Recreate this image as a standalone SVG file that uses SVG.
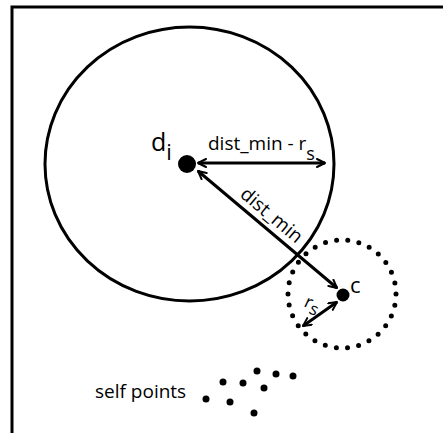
<svg xmlns="http://www.w3.org/2000/svg" width="443" height="433" viewBox="0 0 443 433">
<defs>
<style>
.t{font-family:"Open Sans","Noto Sans",sans-serif;fill:#000}
.ln{stroke:#000;stroke-width:3;fill:none}
</style>
<marker id="ah" viewBox="0 0 10 10" refX="9" refY="5" markerWidth="10" markerHeight="10" markerUnits="userSpaceOnUse" orient="auto-start-reverse">
<path d="M1,1 L9,5 L1,9" fill="none" stroke="#000" stroke-width="2" stroke-linecap="round" stroke-linejoin="round"/>
</marker>
</defs>
<rect width="443" height="433" fill="#fff"/>
<path d="M12,433 V7 H443" fill="none" stroke="#000" stroke-width="3"/>
<g id="range">
<ellipse cx="189.5" cy="164" rx="144.5" ry="137" fill="none" stroke="#000" stroke-width="3"/>
</g>
<g id="cluster">
<circle cx="342" cy="294" r="54" fill="none" stroke="#000" stroke-width="5" stroke-dasharray="0 11.3" stroke-linecap="round"/>
</g>
<g id="connectors">
<line class="ln" x1="198" y1="163" x2="325" y2="163" marker-start="url(#ah)" marker-end="url(#ah)"/>
<line class="ln" x1="198" y1="171" x2="337" y2="288" marker-start="url(#ah)" marker-end="url(#ah)"/>
<line class="ln" x1="303" y1="326" x2="337" y2="302" marker-start="url(#ah)" marker-end="url(#ah)"/>
<text class="t" font-size="19" transform="translate(239,196) rotate(40)">dist_min</text>
<text class="t" font-size="18" transform="translate(303,306) rotate(25)">r<tspan font-size="17" dy="4">s</tspan></text>
<text class="t" font-size="19" x="208" y="150">dist_min - r<tspan font-size="18" dy="10">s</tspan></text>
</g>
<g id="di">
<circle cx="187" cy="164" r="9"/>
<text class="t" font-size="25" x="151" y="151">d<tspan font-size="22" dy="9">i</tspan></text>
</g>
<g id="c">
<circle cx="343" cy="295" r="6.5"/>
<text class="t" font-size="22" x="350" y="293">c</text>
</g>
<g id="self">
<text class="t" font-size="19" x="95" y="398">self points</text>
<circle cx="206" cy="399" r="3.5"/>
<circle cx="223" cy="382" r="3.5"/>
<circle cx="230" cy="402" r="3.5"/>
<circle cx="243" cy="383" r="3.5"/>
<circle cx="257" cy="371" r="3.5"/>
<circle cx="264" cy="388" r="3.5"/>
<circle cx="276" cy="374" r="3.5"/>
<circle cx="293" cy="376" r="3.5"/>
<circle cx="254" cy="413" r="3.5"/>
</g>
</svg>
